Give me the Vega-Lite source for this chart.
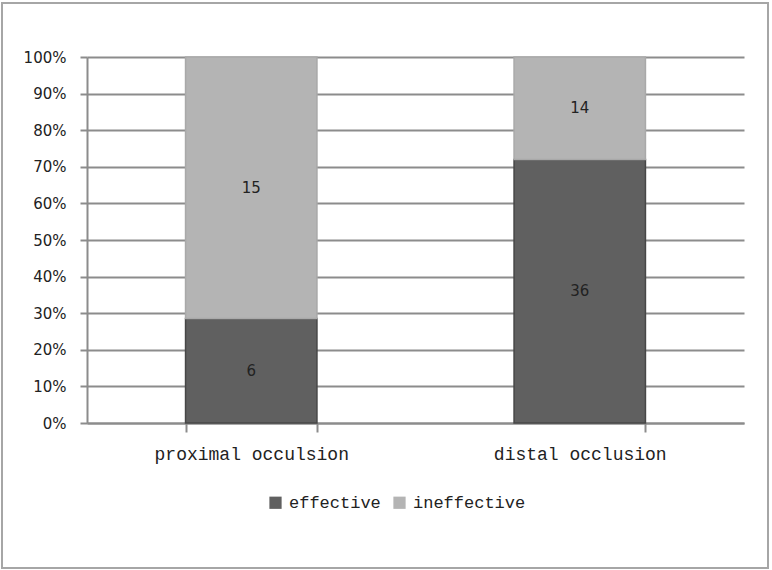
{
  "$schema": "https://vega.github.io/schema/vega-lite/v6.json",
  "width": 766,
  "height": 565,
  "autosize": "none",
  "padding": {"left": 2, "top": 3, "right": 4, "bottom": 2},
  "background": "white",
  "config": {
    "view": {"stroke": "#a6a6a6", "strokeWidth": 2},
    "axis": {"domainColor": "#8c8c8c", "tickColor": "#8c8c8c", "gridColor": "#8c8c8c", "domainWidth": 2, "tickWidth": 2, "gridWidth": 2}
  },
  "data": {
    "values": [
      {"location": "proximal occulsion", "outcome": "effective", "count": 6},
      {"location": "proximal occulsion", "outcome": "ineffective", "count": 15},
      {"location": "distal occlusion", "outcome": "effective", "count": 36},
      {"location": "distal occlusion", "outcome": "ineffective", "count": 14}
    ]
  },
  "encoding": {
    "x": {
      "field": "location",
      "type": "nominal",
      "sort": ["proximal occulsion", "distal occlusion"],
      "scale": {"range": [85, 742], "paddingInner": 0.6, "paddingOuter": 0.3},
      "axis": {
        "title": null,
        "labelAngle": 0,
        "labelFont": "Courier New, Liberation Mono",
        "labelFontSize": 18,
        "labelColor": "#222222",
        "labelPadding": 13,
        "labelLimit": 0,
        "tickBand": "extent",
        "tickSize": 9,
        "offset": -145,
        "grid": false
      }
    }
  },
  "layer": [
    {
      "mark": {"type": "bar", "strokeWidth": 1.5},
      "encoding": {
        "y": {
          "field": "count",
          "type": "quantitative",
          "stack": "normalize",
          "scale": {"domain": [0, 1], "range": [420, 54], "nice": false},
          "axis": {
            "title": null,
            "values": [0, 0.1, 0.2, 0.3, 0.4, 0.5, 0.6, 0.7, 0.8, 0.9, 1],
            "format": ".0%",
            "labelFont": "DejaVu Sans",
            "labelFontSize": 15,
            "labelColor": "#222222",
            "labelPadding": 14,
            "tickSize": 7,
            "offset": -85,
            "grid": true
          }
        },
        "order": {"field": "outcome", "type": "nominal", "sort": "ascending"},
        "color": {
          "field": "outcome",
          "type": "nominal",
          "scale": {"domain": ["effective", "ineffective"], "range": ["#606060", "#b4b4b4"]},
          "legend": {
            "title": null,
            "orient": "none",
            "legendX": 265,
            "legendY": 491,
            "direction": "horizontal",
            "symbolType": "square",
            "symbolSize": 150,
            "symbolStrokeWidth": 0,
            "labelFont": "Courier New, Liberation Mono",
            "labelFontSize": 17,
            "labelColor": "#222222",
            "labelOffset": 5,
            "columnSpacing": 10
          }
        },
        "stroke": {
          "field": "outcome",
          "type": "nominal",
          "scale": {"domain": ["effective", "ineffective"], "range": ["#474747", "#a9a9a9"]},
          "legend": null
        }
      }
    },
    {
      "transform": [
        {"stack": "count", "groupby": ["location"], "offset": "normalize", "sort": [{"field": "outcome"}], "as": ["y0", "y1"]},
        {"calculate": "(datum.y0 + datum.y1) / 2", "as": "ymid"}
      ],
      "mark": {"type": "text", "font": "DejaVu Sans", "fontSize": 15, "color": "#222222"},
      "encoding": {
        "y": {"field": "ymid", "type": "quantitative"},
        "text": {"field": "count", "type": "quantitative"}
      }
    }
  ]
}
